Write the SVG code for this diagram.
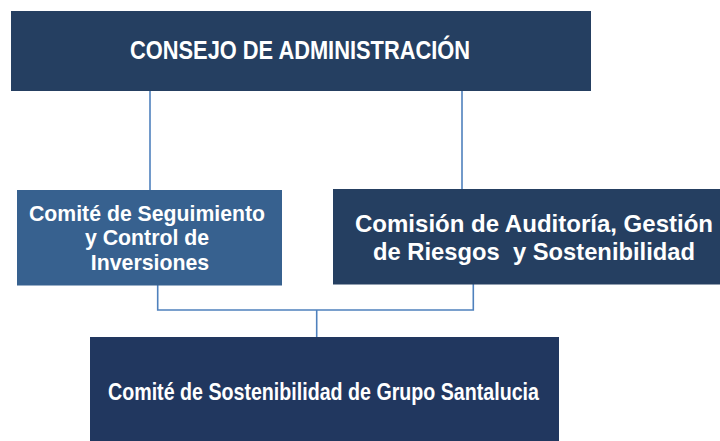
<svg xmlns="http://www.w3.org/2000/svg" width="720" height="441" viewBox="0 0 720 441">
<style>
.dark{fill:#253F61}
.mid{fill:#37618F}
.bot{fill:#21375F}
.t{fill:#FFFFFF;font-family:"Liberation Sans",Arial,sans-serif;font-weight:bold;text-anchor:middle}
.c{fill:none;stroke:#4F81BD;stroke-width:1.6}
</style>
<rect width="720" height="441" fill="#FFFFFF"/>
<g id="connectors">
<line class="c" x1="150" y1="87" x2="150" y2="190"/>
<line class="c" x1="462" y1="84" x2="462" y2="190"/>
<polyline class="c" points="157.7,285 157.7,310 473.3,310 473.3,284"/>
<line class="c" x1="316.7" y1="310" x2="316.7" y2="340"/>
</g>
<g id="consejo">
<rect class="dark" x="11" y="11" width="580" height="80"/>
<text class="t" x="300" y="59" font-size="26" textLength="340" lengthAdjust="spacingAndGlyphs">CONSEJO DE ADMINISTRACIÓN</text>
</g>
<g id="comite-seguimiento">
<rect class="mid" x="17" y="190" width="265" height="95.5"/>
<text class="t" font-size="21.3">
<tspan x="150" y="220.7" textLength="236" lengthAdjust="spacingAndGlyphs">Comité de Seguimiento</tspan>
<tspan x="150" y="245">y Control de</tspan>
<tspan x="150" y="270">Inversiones</tspan>
</text>
</g>
<g id="comision-auditoria">
<rect class="dark" x="333" y="189" width="387" height="95.5"/>
<text class="t" font-size="24" xml:space="preserve"><tspan x="534" y="231.7" textLength="358" lengthAdjust="spacingAndGlyphs">Comisión de Auditoría, Gestión</tspan><tspan x="534" y="260" textLength="322" lengthAdjust="spacingAndGlyphs">de Riesgos  y Sostenibilidad</tspan></text>
</g>
<g id="comite-sostenibilidad">
<rect class="bot" x="90" y="337" width="469" height="104"/>
<text class="t" x="323.5" y="400" font-size="23" textLength="431" lengthAdjust="spacingAndGlyphs">Comité de Sostenibilidad de Grupo Santalucia</text>
</g>
</svg>
